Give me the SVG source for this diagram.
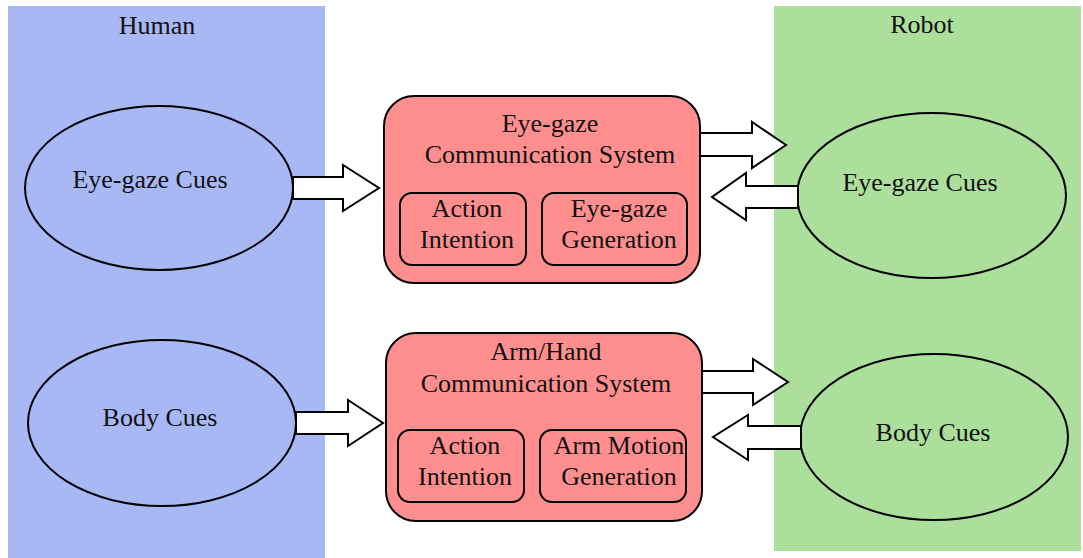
<svg xmlns="http://www.w3.org/2000/svg" width="1083" height="558" viewBox="0 0 1083 558">
<style>
text{font-family:"Liberation Serif","Times New Roman",serif;font-size:26px;fill:#111;text-anchor:middle}
.ell{stroke:#000;stroke-width:2}
.box{fill:#ff8f8f;stroke:#000;stroke-width:2}
.arr{fill:#fff;stroke:#000;stroke-width:2;stroke-linejoin:miter}
</style>
<rect width="1083" height="558" fill="#fff"/>
<g id="human-panel">
<rect x="8" y="6" width="317" height="552" fill="#a8b8f5"/>
<text x="157" y="34">Human</text>
</g>
<g id="robot-panel">
<rect x="774" y="6" width="307" height="545" fill="#acdf9c"/>
<text x="922" y="33">Robot</text>
</g>
<g id="human-eye">
<ellipse class="ell" cx="159" cy="188" rx="134" ry="82" fill="#a8b8f5"/>
<text x="150" y="188">Eye-gaze Cues</text>
</g>
<g id="human-body">
<ellipse class="ell" cx="162" cy="423" rx="134" ry="83" fill="#a8b8f5"/>
<text x="160" y="426">Body Cues</text>
</g>
<g id="robot-eye">
<ellipse class="ell" cx="931.5" cy="195.5" rx="134.5" ry="82.5" fill="#acdf9c"/>
<text x="920" y="191">Eye-gaze Cues</text>
</g>
<g id="robot-body">
<ellipse class="ell" cx="934" cy="437" rx="134" ry="83" fill="#acdf9c"/>
<text x="933" y="441">Body Cues</text>
</g>
<g id="eye-system">
<rect class="box" x="384" y="96" width="316" height="187" rx="30"/>
<text x="550" y="132">Eye-gaze</text>
<text x="550" y="163">Communication System</text>
<g id="eye-action">
<rect class="box" x="400" y="193" width="126" height="72" rx="12"/>
<text x="467" y="217">Action</text>
<text x="467" y="248">Intention</text>
</g>
<g id="eye-generation">
<rect class="box" x="542" y="193" width="145" height="72" rx="12"/>
<text x="619" y="217">Eye-gaze</text>
<text x="619" y="248">Generation</text>
</g>
</g>
<g id="arm-system">
<rect class="box" x="386" y="333" width="316" height="188" rx="30"/>
<text x="546" y="360">Arm/Hand</text>
<text x="546" y="392">Communication System</text>
<g id="arm-action">
<rect class="box" x="398" y="430" width="126" height="72" rx="12"/>
<text x="465" y="454">Action</text>
<text x="465" y="485">Intention</text>
</g>
<g id="arm-generation">
<rect class="box" x="540" y="430" width="146" height="72" rx="12"/>
<text x="619" y="454">Arm Motion</text>
<text x="619" y="485">Generation</text>
</g>
</g>
<g id="connectors">
<polygon class="arr" points="293,177 343,177 343,165 379,188 343,211 343,199 293,199"/>
<polygon class="arr" points="700,133 752,133 752,122 786,145 752,168 752,156 700,156"/>
<polygon class="arr" points="798,186 746,186 746,173 712,197 746,220 746,208 798,208"/>
<polygon class="arr" points="296,412 348,412 348,400 383,423 348,446 348,434 296,434"/>
<polygon class="arr" points="702,371 753,371 753,359 788,382 753,405 753,393 702,393"/>
<polygon class="arr" points="801,426 748,426 748,415 713,437 748,460 748,449 801,449"/>
</g>
</svg>
